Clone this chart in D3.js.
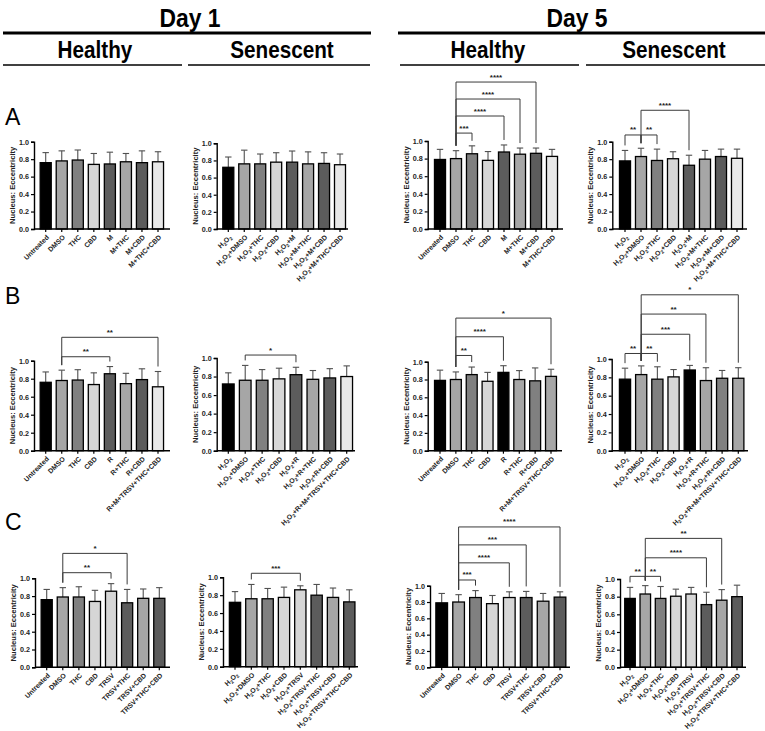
<!DOCTYPE html>
<html><head><meta charset="utf-8">
<script src="https://cdn.jsdelivr.net/npm/d3@7"></script>
<style>body{margin:0;background:#fff}svg{display:block}</style>
</head><body>
<svg id="c" width="765" height="731"></svg>
<script>
// ---------- data ----------
const yTicks = [0.0, 0.2, 0.4, 0.6, 0.8, 1.0];
const yLabel = "Nucleus: Eccentricity";

const labelsA_H = ["Untreated","DMSO","THC","CBD","M","M+THC","M+CBD","M+THC+CBD"];
const labelsA_S = ["H2O2","H2O2+DMSO","H2O2+THC","H2O2+CBD","H2O2+M","H2O2+M+THC","H2O2+M+CBD","H2O2+M+THC+CBD"];
const labelsB_H = ["Untreated","DMSO","THC","CBD","R","R+THC","R+CBD","R+M+TRSV+THC+CBD"];
const labelsB_S = ["H2O2","H2O2+DMSO","H2O2+THC","H2O2+CBD","H2O2+R","H2O2+R+THC","H2O2+R+CBD","H2O2+R+M+TRSV+THC+CBD"];
const labelsC_H = ["Untreated","DMSO","THC","CBD","TRSV","TRSV+THC","TRSV+CBD","TRSV+THC+CBD"];
const labelsC_S = ["H2O2","H2O2+DMSO","H2O2+THC","H2O2+CBD","H2O2+TRSV","H2O2+TRSV+THC","H2O2+TRSV+CBD","H2O2+TRSV+THC+CBD"];

// means and upper error-bar ends
const meanA1 = [0.76,0.78,0.79,0.74,0.745,0.77,0.76,0.77];
const topA1  = [0.875,0.895,0.905,0.865,0.88,0.865,0.895,0.885];
const meanA2 = [0.72,0.76,0.76,0.78,0.78,0.76,0.765,0.75];
const topA2  = [0.84,0.92,0.875,0.89,0.91,0.90,0.89,0.875];
const meanA3 = [0.79,0.80,0.855,0.78,0.875,0.85,0.86,0.825];
const topA3  = [0.905,0.89,0.945,0.88,0.955,0.92,0.92,0.905];
const meanA4 = [0.78,0.83,0.785,0.805,0.73,0.80,0.83,0.81];
const topA4  = [0.90,0.925,0.915,0.885,0.845,0.90,0.915,0.915];

const meanB1 = [0.76,0.78,0.785,0.735,0.855,0.745,0.79,0.71];
const topB1  = [0.875,0.895,0.90,0.865,0.935,0.86,0.91,0.88];
const meanB2 = [0.72,0.76,0.76,0.775,0.82,0.77,0.785,0.80];
const topB2  = [0.84,0.92,0.875,0.89,0.90,0.865,0.885,0.915];
const meanB3 = [0.79,0.80,0.855,0.78,0.88,0.80,0.785,0.835];
const topB3  = [0.905,0.885,0.94,0.88,0.955,0.90,0.93,0.915];
const meanB4 = [0.78,0.83,0.78,0.805,0.88,0.765,0.79,0.79];
const topB4  = [0.90,0.925,0.915,0.885,0.93,0.905,0.875,0.905];

const meanC1 = [0.76,0.79,0.79,0.74,0.855,0.725,0.775,0.775];
const topC1  = [0.875,0.895,0.905,0.865,0.94,0.875,0.88,0.895];
const meanC2 = [0.72,0.76,0.76,0.775,0.86,0.80,0.775,0.725];
const topC2  = [0.84,0.92,0.875,0.89,0.905,0.92,0.88,0.86];
const meanC3 = [0.79,0.80,0.855,0.78,0.855,0.855,0.81,0.86];
const topC3  = [0.905,0.89,0.94,0.88,0.925,0.93,0.905,0.925];
const meanC4 = [0.78,0.83,0.78,0.805,0.83,0.71,0.76,0.80];
const topC4  = [0.905,0.925,0.915,0.885,0.905,0.85,0.88,0.93];

// significance: [from index, to index, stars, bracket level on the y scale]
const sigA1 = [], sigA2 = [];
const sigA3 = [[1,2,"***",1.09],[1,4,"****",1.284],[1,5,"****",1.477],[1,6,"****",1.67]];
const sigA4 = [[0,1,"**",1.077],[1,2,"**",1.077],[1,4,"****",1.36]];
const sigB1 = [[1,4,"**",1.044],[1,7,"**",1.26]];
const sigB2 = [[1,4,"*",1.032]];
const sigB3 = [[1,2,"**",1.07],[1,4,"****",1.28],[1,7,"*",1.49]];
const sigB4 = [[0,1,"**",1.06],[1,2,"**",1.06],[1,4,"***",1.27],[1,5,"**",1.49],[1,7,"*",1.70]];
const sigC1 = [[1,4,"**",1.063],[1,5,"*",1.28]];
const sigC2 = [[1,4,"***",1.045]];
const sigC3 = [[1,2,"***",1.07],[1,4,"****",1.28],[1,5,"***",1.50],[1,7,"****",1.72]];
const sigC4 = [[0,1,"**",1.03],[1,2,"**",1.03],[1,5,"****",1.24],[1,6,"**",1.46]];

// ---------- styles ----------
const G = {k:"#000", m:"#a6a6a6", d:"#808080", l:"#d6d6d6", v:"#5c5c5c", w:"#e8e8e8"};
const palA = [G.k,G.m,G.d,G.l,G.v,G.m,G.v,G.w];
const palB_D1 = [G.k,G.m,G.d,G.l,G.v,G.m,G.v,G.w];
const palB_D5 = [G.k,G.m,G.d,G.l,G.k,G.m,G.d,G.m];
const palC = [G.k,G.m,G.d,G.l,G.l,G.v,G.m,G.v];

// ---------- layout ----------
const panels = [
  {lab:labelsA_H, mean:meanA1, top:topA1, sig:sigA1, pal:palA, ax:34,  f:45.7, l:158,  y0:229,   y1:141.7, end:170},
  {lab:labelsA_S, mean:meanA2, top:topA2, sig:sigA2, pal:palA, ax:216.7,f:228.3,l:340, y0:229,   y1:143.3, end:348},
  {lab:labelsA_H, mean:meanA3, top:topA3, sig:sigA3, pal:palA, ax:427.7,f:440, l:552,  y0:229,   y1:141,   end:563},
  {lab:labelsA_S, mean:meanA4, top:topA4, sig:sigA4, pal:palA, ax:612.3,f:625, l:737,  y0:229,   y1:141.7, end:747},
  {lab:labelsB_H, mean:meanB1, top:topB1, sig:sigB1, pal:palB_D1, ax:34, f:45.7, l:158, y0:450.7, y1:360.7, end:170},
  {lab:labelsB_S, mean:meanB2, top:topB2, sig:sigB2, pal:palB_D1, ax:216.7,f:228.3,l:346.7,y0:450.7,y1:358, end:355},
  {lab:labelsB_H, mean:meanB3, top:topB3, sig:sigB3, pal:palB_D5, ax:427.7,f:440, l:551, y0:450.7, y1:361.7, end:562},
  {lab:labelsB_S, mean:meanB4, top:topB4, sig:sigB4, pal:palB_D5, ax:611.7,f:625, l:738.3,y0:450.7,y1:359, end:748},
  {lab:labelsC_H, mean:meanC1, top:topC1, sig:sigC1, pal:palC, ax:35,  f:46.7, l:159.3, y0:667.3, y1:578.3, end:170},
  {lab:labelsC_S, mean:meanC2, top:topC2, sig:sigC2, pal:palC, ax:223, f:235,  l:349.3, y0:666.7, y1:577.3, end:358},
  {lab:labelsC_H, mean:meanC3, top:topC3, sig:sigC3, pal:palC, ax:430, f:441.7,l:560,   y0:667.3, y1:585.7, end:570},
  {lab:labelsC_S, mean:meanC4, top:topC4, sig:sigC4, pal:palC, ax:620, f:630,  l:737,   y0:667.3, y1:579,   end:746}
];

const svg = d3.select("#c");
const FONT = "'Liberation Sans', Arial, sans-serif";

// headers (condensed bold)
function header(t, x, y, size, sx){
  svg.append("text").attr("transform",`translate(${x},${y}) scale(${sx},1)`).attr("text-anchor","middle")
    .attr("font-family",FONT).attr("font-weight","bold").attr("font-size",size).text(t);
}
header("Day 1",190,27,26,0.88); header("Day 5",577,27,26,0.88);
header("Healthy",95,58,23,0.9); header("Senescent",282,58,23,0.9);
header("Healthy",488,58,23,0.9); header("Senescent",674,58,23,0.9);
[[3,371],[398,765]].forEach(([a,b])=>svg.append("line").attr("x1",a).attr("x2",b).attr("y1",33).attr("y2",33).attr("stroke","#000").attr("stroke-width",3));
[[3,182],[188,370],[400,579],[586,765]].forEach(([a,b])=>svg.append("line").attr("x1",a).attr("x2",b).attr("y1",65).attr("y2",65).attr("stroke","#000").attr("stroke-width",1.5));
[["A",125],["B",304],["C",530]].forEach(([t,y])=>svg.append("text").attr("x",5).attr("y",y)
  .attr("font-family",FONT).attr("font-size",23).text(t));

// label with H2O2 subscripts
function richLabel(sel, str){
  const parts = str.split("H2O2");
  parts.forEach((p,i)=>{
    if(i>0){
      sel.append("tspan").text("H");
      sel.append("tspan").attr("font-size","0.7em").attr("dy",1.5).text("2");
      sel.append("tspan").attr("dy",-1.5).text("O");
      sel.append("tspan").attr("font-size","0.7em").attr("dy",1.5).text("2");
      sel.append("tspan").attr("dy",-1.5).text(p);
    } else if(p.length){ sel.append("tspan").text(p); }
  });
}

panels.forEach(P=>{
  const g = svg.append("g");
  const x = d3.scalePoint().domain(P.lab).range([P.f, P.l]);
  const step = (P.l - P.f)/(P.lab.length-1);
  const bw = step*0.69;
  const y = d3.scaleLinear().domain([0,1]).range([P.y0, P.y1]);

  const data = P.lab.map((k,i)=>({k, m:P.mean[i], t:P.top[i], c:P.pal[i]}));
  g.selectAll(".err").data(data).join("line")
    .attr("x1",d=>x(d.k)).attr("x2",d=>x(d.k)).attr("y1",d=>y(d.m)).attr("y2",d=>y(d.t))
    .attr("stroke","#505050").attr("stroke-width",1.1);
  g.selectAll(".cap").data(data).join("line")
    .attr("x1",d=>x(d.k)-3.2).attr("x2",d=>x(d.k)+3.2).attr("y1",d=>y(d.t)).attr("y2",d=>y(d.t))
    .attr("stroke","#505050").attr("stroke-width",1.1);
  g.selectAll(".bar").data(data).join("rect")
    .attr("x",d=>x(d.k)-bw/2).attr("width",bw)
    .attr("y",d=>y(d.m)).attr("height",d=>P.y0-y(d.m))
    .attr("fill",d=>d.c).attr("stroke","#000").attr("stroke-width",1.3);

  const ya = g.append("g").attr("transform",`translate(${P.ax},0)`)
    .call(d3.axisLeft(y).tickValues(yTicks).tickFormat(d3.format(".1f")).tickSize(3).tickPadding(2));
  ya.select(".domain").attr("stroke-width",1.4);
  ya.selectAll(".tick line").attr("stroke-width",1.2);
  ya.selectAll("text").attr("font-family",FONT).attr("font-weight","bold").attr("font-size",7.2).attr("fill","#222");
  const xa = g.append("g").attr("transform",`translate(0,${P.y0})`);
  xa.append("line").attr("x1",P.ax).attr("x2",P.end).attr("y1",0).attr("y2",0).attr("stroke","#000").attr("stroke-width",1.4);
  const xt = xa.selectAll(".xt").data(P.lab).join("g").attr("transform",d=>`translate(${x(d)},0)`);
  xt.append("line").attr("y1",0).attr("y2",3).attr("stroke","#000").attr("stroke-width",1.2);
  xt.append("text").attr("transform","translate(1,6) rotate(-45)").attr("text-anchor","end")
    .attr("font-family",FONT).attr("font-weight","bold").attr("font-size",6.9).attr("fill","#222")
    .attr("dy","0.55em")
    .each(function(d){ richLabel(d3.select(this), d); });

  g.append("text").attr("transform",`translate(${P.ax-19},${(P.y0+P.y1)/2}) rotate(-90)`)
    .attr("text-anchor","middle").attr("font-family",FONT).attr("font-weight","bold").attr("font-size",7.6)
    .attr("fill","#222").text(yLabel);

  P.sig.forEach(([a,b,s,lv])=>{
    const xa_ = x(P.lab[a]), xb = x(P.lab[b]);
    const yl = y(lv);
    const ya_ = y(P.top[a]) - 5, yb = y(P.top[b]) - 5;
    g.append("path").attr("d",`M${xa_},${ya_}V${yl}H${xb}V${yb}`)
      .attr("fill","none").attr("stroke","#3a3a3a").attr("stroke-width",1);
    g.append("text").attr("x",(xa_+xb)/2).attr("y",yl-2.5).attr("text-anchor","middle")
      .attr("font-family",FONT).attr("font-weight","bold").attr("font-size",8).attr("fill","#222").text(s);
  });
});
</script>
</body></html>
